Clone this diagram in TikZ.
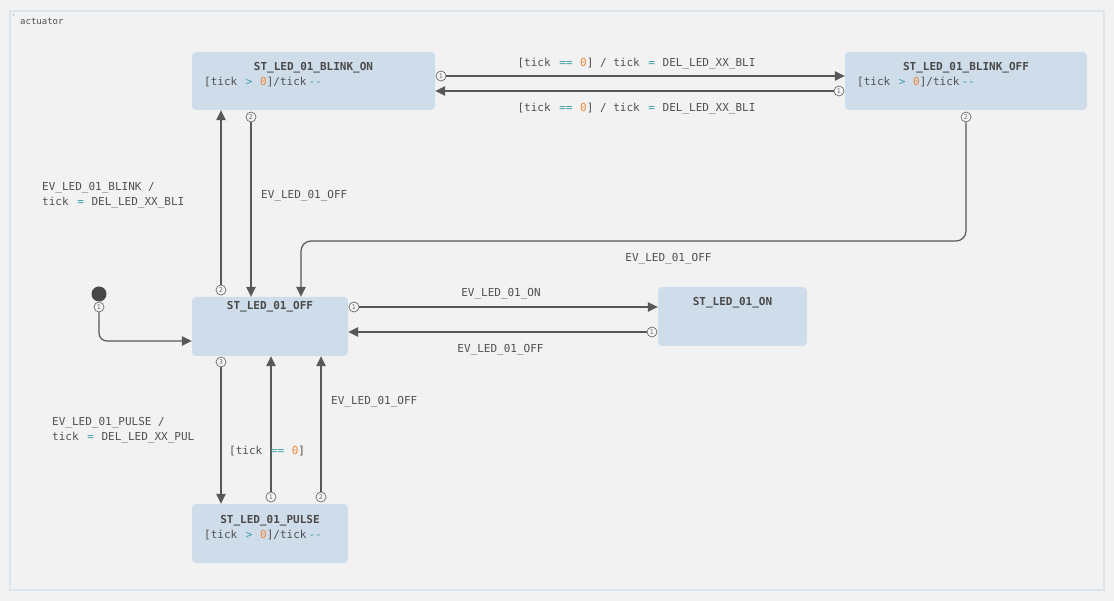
\documentclass[tikz,border=0pt]{standalone}
\usepackage{fontspec}
\setmonofont{DejaVu Sans Mono}
\setsansfont{DejaVu Sans}
\usetikzlibrary{arrows.meta}
\definecolor{bgc}{HTML}{F2F2F2}
\definecolor{framec}{HTML}{DCE4EC}
\definecolor{statec}{HTML}{CFDCE9}
\definecolor{txtc}{HTML}{505050}
\definecolor{titc}{HTML}{4A4A4A}
\definecolor{linec}{HTML}{585858}
\definecolor{opc}{HTML}{3A9FA6}
\definecolor{numc}{HTML}{F0883A}
\definecolor{portline}{HTML}{6A6A6A}
\definecolor{portfill}{HTML}{F6F6F6}
\definecolor{initc}{HTML}{474747}
\newcommand{\opr}[1]{\hspace{2pt}\textcolor{opc}{#1}\hspace{1pt}}
\newcommand{\zr}[1]{\textcolor{numc}{#1}}
\begin{document}
\begin{tikzpicture}[x=1pt,y=-1pt,
  font=\ttfamily\fontsize{11}{15}\selectfont,
  state/.style={fill=statec, rounded corners=4pt, inner sep=0pt},
  title/.style={font=\ttfamily\bfseries\fontsize{11}{13}\selectfont, text=titc, inner sep=0pt, yshift=-1.5pt},
  guard/.style={text=txtc, inner sep=0pt, anchor=west, yshift=-1.5pt},
  lbl/.style={text=txtc, inner sep=0pt, align=left, yshift=-1.5pt},
  portc/.style={circle, draw=portline, fill=portfill, line width=0.7pt, minimum size=10pt, inner sep=0pt,
    font=\sffamily\fontsize{6.5}{7}\selectfont, text=portline},
  tr/.style={draw=linec, line width=1.2pt, -{Triangle[length=10pt,width=9.5pt]}}]
\useasboundingbox (0,0) rectangle (1114,601);
\fill[bgc] (0,0) rectangle (1114,601);
\draw[framec, line width=2pt, fill=bgc] (10,11) rectangle (1104,590);
\node[font=\sffamily\fontsize{4}{4}\selectfont, text=gray, inner sep=0pt] (mk) at (13.5,15) {I};
\node[font=\ttfamily\fontsize{9}{10}\selectfont, text=txtc, anchor=west, inner sep=0pt] (act) at (20,21) {actuator};

% states
\node[state, minimum width=243pt, minimum height=58pt] (bon) at (313.5,81) {};
\node[title] (bont) at (313.5,66) {ST\_LED\_01\_BLINK\_ON};
\node[guard] (bong) at (204,81) {[tick\ \opr{>}\ \zr{0}]/tick\opr{-{}-}};

\node[state, minimum width=242pt, minimum height=58pt] (boff) at (966,81) {};
\node[title] (bofft) at (966,66) {ST\_LED\_01\_BLINK\_OFF};
\node[guard] (boffg) at (857,81) {[tick\ \opr{>}\ \zr{0}]/tick\opr{-{}-}};

\node[state, minimum width=156pt, minimum height=59pt] (off) at (270,326.5) {};
\node[title] (offt) at (270,305) {ST\_LED\_01\_OFF};

\node[state, minimum width=149pt, minimum height=59pt] (on) at (732.5,316.5) {};
\node[title] (ont) at (732.5,301) {ST\_LED\_01\_ON};

\node[state, minimum width=156pt, minimum height=59pt] (pulse) at (270,533.5) {};
\node[title] (pulset) at (270,519) {ST\_LED\_01\_PULSE};
\node[guard] (pulseg) at (204,534) {[tick\ \opr{>}\ \zr{0}]/tick\opr{-{}-}};

% initial
\node[circle, fill=initc, minimum size=15pt, inner sep=0pt] (init) at (99,294) {};

% ports
\node[portc] (p0) at (99,307) {1};
\node[portc] (p1) at (441,76) {1};
\node[portc] (p2) at (839,91) {1};
\node[portc] (p3) at (251,117) {2};
\node[portc] (p4) at (221,290) {2};
\node[portc] (p5) at (966,117) {2};
\node[portc] (p6) at (354,307) {1};
\node[portc] (p7) at (652,332) {1};
\node[portc] (p8) at (221,362) {3};
\node[portc] (p9) at (271,497) {1};
\node[portc] (p10) at (321,497) {2};

\coordinate (k1) at (301,241);
\coordinate (k2) at (99,341);

% transitions
\draw[tr, rounded corners=8pt] (p0.south) -- (p0 |- k2) -- (off.west |- k2);
\draw[tr] (p1.east) -- (boff.west |- p1);
\draw[tr] (p2.west) -- (bon.east |- p2);
\draw[tr] (p3.south) -- (p3 |- off.north);
\draw[tr] (p4.north) -- (p4 |- bon.south);
\draw[tr, rounded corners=10pt] (p5.south) -- (p5 |- k1) -- (k1) -- (k1 |- off.north);
\draw[tr] (p6.east) -- (on.west |- p6);
\draw[tr] (p7.west) -- (off.east |- p7);
\draw[tr] (p8.south) -- (p8 |- pulse.north);
\draw[tr] (p9.north) -- (p9 |- off.south);
\draw[tr] (p10.north) -- (p10 |- off.south);

% labels
\node[lbl] (l1) at (636.5,62) {[tick\ \opr{==}\ \zr{0}] / tick\ \opr{=}\ DEL\_LED\_XX\_BLI};
\node[lbl] (l2) at (636.5,107) {[tick\ \opr{==}\ \zr{0}] / tick\ \opr{=}\ DEL\_LED\_XX\_BLI};
\node[lbl, anchor=west] (l3) at (42,193.5) {EV\_LED\_01\_BLINK /\\tick\ \opr{=}\ DEL\_LED\_XX\_BLI};
\node[lbl, anchor=west] (l4) at (261,194) {EV\_LED\_01\_OFF};
\node[lbl] (l5) at (668.5,257) {EV\_LED\_01\_OFF};
\node[lbl] (l6) at (501,292) {EV\_LED\_01\_ON};
\node[lbl] (l7) at (500.5,348) {EV\_LED\_01\_OFF};
\node[lbl, anchor=west] (l8) at (331,400) {EV\_LED\_01\_OFF};
\node[lbl, anchor=west] (l9) at (52,429) {EV\_LED\_01\_PULSE /\\tick\ \opr{=}\ DEL\_LED\_XX\_PUL};
\node[lbl, anchor=west] (l10) at (229,450) {[tick\ \opr{==}\ \zr{0}]};
\end{tikzpicture}
\end{document}
